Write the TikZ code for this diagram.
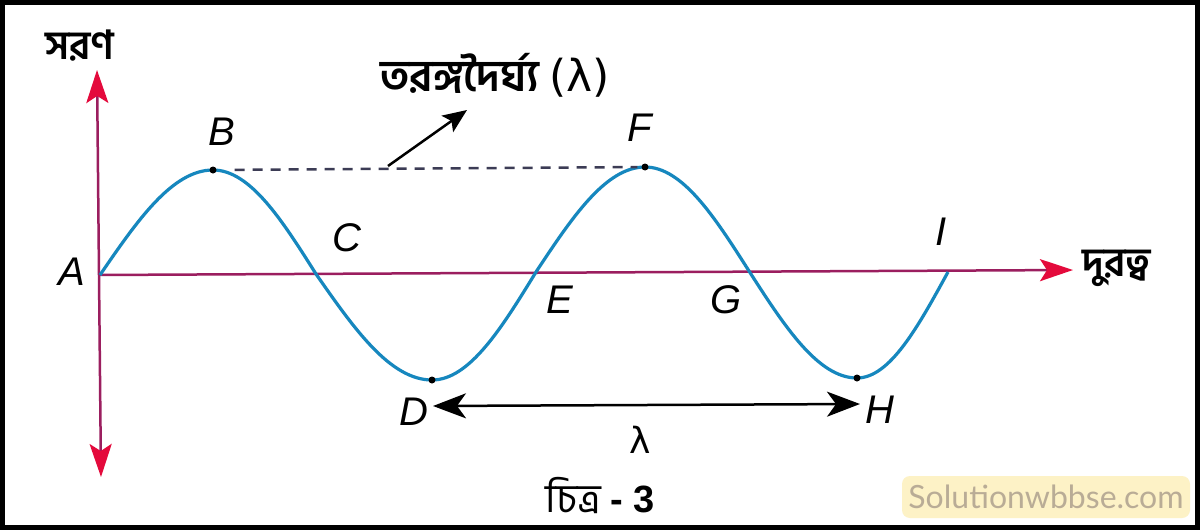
\documentclass[tikz,border=0pt]{standalone}
\usepackage{fontspec}
\setmainfont{Liberation Sans}
\newfontfamily\bn[Script=Bengali]{Hind Siliguri}
\newfontfamily\wmfont{Lato}
\newfontfamily\grk{DejaVu Sans}
\usetikzlibrary{arrows.meta}
\definecolor{axisc}{RGB}{155,30,95}
\definecolor{tipc}{RGB}{228,10,60}
\definecolor{wavec}{RGB}{22,135,190}
\definecolor{dashc}{RGB}{60,60,85}
\definecolor{wmfill}{RGB}{253,242,198}
\definecolor{wmtext}{RGB}{185,172,150}
\begin{document}
\begin{tikzpicture}[x=1pt,y=-1pt,
  lbl/.style={font=\fontsize{40}{44}\selectfont\itshape, inner sep=0pt},
  bntext/.style={font=\fontsize{40}{44}\selectfont\bn\bfseries, inner sep=0pt},
  axisline/.style={draw=axisc, line width=2.5pt, -{Stealth[length=33pt,width=22pt,inset=7pt,color=tipc]}},
  wave/.style={draw=wavec, line width=3.2pt},
  dot/.style={circle, fill=black, inner sep=0pt, minimum size=7pt},
  dashline/.style={draw=dashc, line width=2.5pt, dash pattern=on 10pt off 8pt},
  blackarrow/.style={draw=black, line width=2.5pt, -{Stealth[length=24pt,width=20pt,inset=5pt]}},
  dblarrow/.style={draw=black, line width=2.5pt, {Stealth[length=33pt,width=25pt,inset=9pt]}-{Stealth[length=33pt,width=25pt,inset=9pt]}}
]
\useasboundingbox (0,0) rectangle (1200,530);
\fill[white] (0,0) rectangle (1200,530);
\draw[line width=5pt] (2.5,2.5) rectangle (1197.5,527.5);

% axes
\coordinate (O) at (99,275);
\coordinate (Ytop) at (97,70);
\coordinate (Ybot) at (101,477);
\coordinate (Xend) at (1073,270);
\draw[axisline] (O) -- (Ytop);
\draw[axisline] (O) -- (Ybot);
\draw[axisline] (O) -- (Xend);

% wave points
\coordinate (A) at (100,275);
\coordinate (B) at (213,170);
\coordinate (C) at (316,274);
\coordinate (D) at (432,380);
\coordinate (E) at (536,272);
\coordinate (F) at (645,167);
\coordinate (G) at (749,271);
\coordinate (H) at (857,378);
\coordinate (I) at (948,272);
\draw[wave] (A) sin (B) cos (C) sin (D) cos (E) sin (F) cos (G) sin (H) cos (I);

\node[dot] (dB) at (B) {};
\node[dot] (dD) at (D) {};
\node[dot] (dF) at (F) {};
\node[dot] (dH) at (H) {};

% dashed line and pointer arrow
\draw[dashline, shorten <=18pt, shorten >=4pt] (dB) -- (dF);
\coordinate (P) at (388,166);
\coordinate (Q) at (467,110);
\draw[blackarrow] (P) -- (Q);

% lambda double arrow
\coordinate (DL) at (433,406);
\coordinate (HR) at (860,404);
\draw[dblarrow] (DL) -- (HR);

% point labels
\node[lbl] (lA) at (72,272) {A};
\node[lbl] (lB) at (222,132) {B};
\node[lbl] (lC) at (347,238) {C};
\node[lbl] (lD) at (414,412) {D};
\node[lbl] (lE) at (560,300) {E};
\node[lbl] (lF) at (640,128) {F};
\node[lbl] (lG) at (726,300) {G};
\node[lbl] (lH) at (880,410) {H};
\node[lbl] (lI) at (941,232) {I};
\node[font=\fontsize{36}{40}\selectfont\grk, inner sep=0pt] (lam) at (640,440) {λ};

% Bengali texts
\node[bntext] (t1) at (80,46) {সরণ};
\node[bntext, font=\fontsize{44}{48}\selectfont\bn\bfseries] (t2) at (495,75) {তরঙ্গদৈর্ঘ্য {\grk\mdseries(λ)}};
\node[bntext] (t3) at (1117,268) {দুরত্ব};
\node[bntext, font=\fontsize{40}{44}\selectfont\bn\mdseries] (t4) at (600,495) {চিত্র {\fontsize{38}{42}\selectfont\rmfamily\bfseries - 3}};

% watermark
\node[fill=wmfill, rounded corners=8pt, minimum width=288pt, minimum height=42pt,
      text=wmtext, font=\fontsize{32}{36}\selectfont\wmfont, inner sep=0pt] (wm) at (1046,497) {Solutionwbbse.com};
\end{tikzpicture}
\end{document}
